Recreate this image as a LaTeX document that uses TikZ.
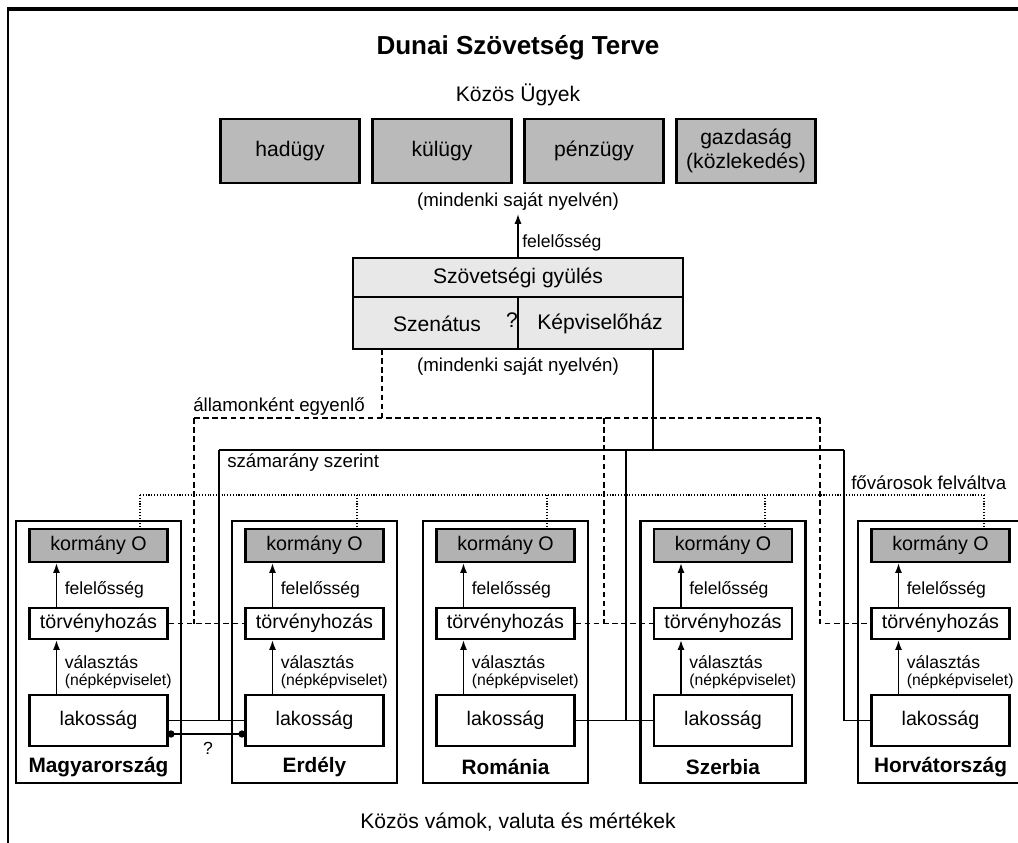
\documentclass[tikz,border=0pt]{standalone}
\usepackage{fontspec}
\setmainfont{Liberation Sans}
\usetikzlibrary{arrows.meta}

\tikzset{
  cim/.style={font=\fontsize{18.5}{22}\selectfont\bfseries},
  nagy/.style={font=\fontsize{15}{16.5}\selectfont},
  kozep/.style={font=\fontsize{14}{17}\selectfont},
  cimke/.style={font=\fontsize{13.3}{16}\selectfont, inner sep=0pt},
  kicsi/.style={font=\fontsize{12.5}{15}\selectfont, inner sep=0pt},
  apro/.style={font=\fontsize{11.2}{13}\selectfont, inner sep=0pt},
  ugy/.style={nagy, draw, line width=1.6pt, fill=black!27, minimum width=3.475cm, minimum height=1.6cm, align=center, inner sep=0pt},
  gyul/.style={draw, line width=1.6pt, fill=black!9, minimum width=8.25cm},
  allam/.style={draw, line width=2pt, minimum width=4.125cm, minimum height=6.55cm},
  korm/.style={kozep, draw, line width=1.5pt, fill=black!30, minimum width=3.45cm, minimum height=0.825cm, inner sep=0pt},
  torv/.style={kozep, draw, line width=1.5pt, fill=white, minimum width=3.45cm, minimum height=0.775cm, inner sep=0pt},
  lak/.style={kozep, draw, line width=1.5pt, fill=white, minimum width=3.45cm, minimum height=1.275cm, inner sep=0pt},
  orszag/.style={font=\fontsize{14.8}{18}\selectfont\bfseries},
  nyil/.style={-{Latex[length=7pt,width=5pt]}, line width=1.1pt},
  egyenlo/.style={dash pattern=on 4pt off 2.5pt, line width=1.1pt},
  szam/.style={line width=1.1pt},
  fovaros/.style={dash pattern=on 0.8pt off 1.2pt, line width=0.8pt}
}

\begin{document}
\begin{tikzpicture}[x=0.025cm, y=-0.025cm]

\useasboundingbox (0,0) rectangle (1018,842);
\clip (0,0) rectangle (1018,842);

\draw[line width=2.2pt] (7,9) -- (1030,9);
\draw[line width=1.5pt] (8,9) -- (8,850);


\node[cim] (cim) at (518,48) {Dunai Szövetség Terve};

\node[nagy] (kozosugyek) at (518,95) {Közös Ügyek};

\node[ugy] (hadugy) at (290,151) {hadügy};
\node[ugy] (kulugy) at (442,151) {külügy};
\node[ugy] (penzugy) at (594,151) {pénzügy};
\node[ugy] (gazdasag) at (746,151) {gazdaság\\(közlekedés)};

\node[cimke] (nyelv1) at (518,202) {(mindenki saját nyelvén)};

\node[gyul, nagy, minimum height=0.975cm] (gyules) at (518,277.5) {Szövetségi gyülés};
\node[gyul, minimum height=1.3cm] (kamara) at (518,323) {};
\draw[szam] (kamara.north) -- (kamara.south);
\node[nagy] (szenatus) at (437,324) {Szenátus};
\node[nagy] (kerdes1) at (512,320) {?};
\node[nagy] (kepviselo) at (600,324) {Képviselőház};

\node[cimke] (nyelv2) at (518,367) {(mindenki saját nyelvén)};

\draw[nyil, shorten >=2pt] (gyules.north) -- (nyelv1.south);
\node[kicsi, anchor=west] (fel0) at (522,243) {felelősség};


% allamok
\node[allam] (mag) at (98.5,652) {};
\node[korm] (magKorm) at (98.5,545.5) {kormány O};
\node[torv] (magTorv) at (98.5,623.5) {törvényhozás};
\node[lak] (magLak) at (98.5,720.5) {lakosság};
\node[orszag] (magNev) at (98.5,767) {Magyarország};
\draw[nyil] ([xshift=-1.05cm]magTorv.north) -- ([xshift=-1.05cm]magKorm.south);
\draw[nyil] ([xshift=-1.05cm]magLak.north) -- ([xshift=-1.05cm]magTorv.south);
\node[kicsi, anchor=west] (magFel) at (64.5,590) {felelősség};
\node[kicsi, anchor=west] (magVal) at (64.5,662) {választás};
\node[apro, anchor=west] (magNep) at (64.5,681) {(népképviselet)};

\node[allam] (erd) at (314.5,652) {};
\node[korm] (erdKorm) at (314.5,545.5) {kormány O};
\node[torv] (erdTorv) at (314.5,623.5) {törvényhozás};
\node[lak] (erdLak) at (314.5,720.5) {lakosság};
\node[orszag] (erdNev) at (314.5,767) {Erdély};
\draw[nyil] ([xshift=-1.05cm]erdTorv.north) -- ([xshift=-1.05cm]erdKorm.south);
\draw[nyil] ([xshift=-1.05cm]erdLak.north) -- ([xshift=-1.05cm]erdTorv.south);
\node[kicsi, anchor=west] (erdFel) at (280.5,590) {felelősség};
\node[kicsi, anchor=west] (erdVal) at (280.5,662) {választás};
\node[apro, anchor=west] (erdNep) at (280.5,681) {(népképviselet)};

\node[allam] (rom) at (505.5,652) {};
\node[korm] (romKorm) at (505.5,545.5) {kormány O};
\node[torv] (romTorv) at (505.5,623.5) {törvényhozás};
\node[lak] (romLak) at (505.5,720.5) {lakosság};
\node[orszag] (romNev) at (505.5,767) {Románia};
\draw[nyil] ([xshift=-1.05cm]romTorv.north) -- ([xshift=-1.05cm]romKorm.south);
\draw[nyil] ([xshift=-1.05cm]romLak.north) -- ([xshift=-1.05cm]romTorv.south);
\node[kicsi, anchor=west] (romFel) at (471.5,590) {felelősség};
\node[kicsi, anchor=west] (romVal) at (471.5,662) {választás};
\node[apro, anchor=west] (romNep) at (471.5,681) {(népképviselet)};

\node[allam] (szer) at (723,652) {};
\node[korm] (szerKorm) at (723,545.5) {kormány O};
\node[torv] (szerTorv) at (723,623.5) {törvényhozás};
\node[lak] (szerLak) at (723,720.5) {lakosság};
\node[orszag] (szerNev) at (723,767) {Szerbia};
\draw[nyil] ([xshift=-1.05cm]szerTorv.north) -- ([xshift=-1.05cm]szerKorm.south);
\draw[nyil] ([xshift=-1.05cm]szerLak.north) -- ([xshift=-1.05cm]szerTorv.south);
\node[kicsi, anchor=west] (szerFel) at (689,590) {felelősség};
\node[kicsi, anchor=west] (szerVal) at (689,662) {választás};
\node[apro, anchor=west] (szerNep) at (689,681) {(népképviselet)};

\node[allam] (hor) at (940.5,652) {};
\node[korm] (horKorm) at (940.5,545.5) {kormány O};
\node[torv] (horTorv) at (940.5,623.5) {törvényhozás};
\node[lak] (horLak) at (940.5,720.5) {lakosság};
\node[orszag] (horNev) at (940.5,767) {Horvátország};
\draw[nyil] ([xshift=-1.05cm]horTorv.north) -- ([xshift=-1.05cm]horKorm.south);
\draw[nyil] ([xshift=-1.05cm]horLak.north) -- ([xshift=-1.05cm]horTorv.south);
\node[kicsi, anchor=west] (horFel) at (906.5,590) {felelősség};
\node[kicsi, anchor=west] (horVal) at (906.5,662) {választás};
\node[apro, anchor=west] (horNep) at (906.5,681) {(népképviselet)};


% allamonkent egyenlo
\coordinate (szen) at (382,349);
\coordinate (e1) at (194,418);
\coordinate (e2) at (382,418);
\coordinate (e3) at (604,418);
\coordinate (e4) at (820,418);

\draw[egyenlo] (szen) -- (e2);
\draw[egyenlo] (e1) -- (e4);
\draw[egyenlo] (e1) -- (e1 |- magTorv.east);
\draw[egyenlo] (magTorv) -- (erdTorv);
\draw[egyenlo] (e3) -- (e3 |- romTorv.east);
\draw[egyenlo] (romTorv) -- (szerTorv);
\draw[egyenlo] (e4) |- (horTorv);

\node[cimke, anchor=west] (egyenlo) at (193,407) {államonként egyenlő};


% szamarany szerint
\coordinate (kep) at (653,349);
\coordinate (s1) at (219,450);
\coordinate (s2) at (626,450);
\coordinate (s3) at (653,450);
\coordinate (s4) at (844,450);

\draw[szam] (kep) -- (s3);
\draw[szam] (s1) -- (s4);
\draw[szam] (s1) -- (s1 |- magLak.east);
\draw[szam] (magLak) -- (erdLak);
\draw[szam] (s2) -- (s2 |- romLak.east);
\draw[szam] (romLak) -- (szerLak);
\draw[szam] (s4) |- (horLak);

\node[cimke, anchor=west] (aranyos) at (227,463) {számarány szerint};

\coordinate (k1) at (167,734);
\coordinate (k2) at (247,734);
\draw[szam] (k1) -- (k2);
\fill (171,734) circle (2.6pt);
\fill (242,734) circle (2.6pt);
\node[kicsi] (kerdes2) at (208,748) {?};


% fovarosok felvaltva
\coordinate (f1) at (140,495);
\coordinate (f2) at (357,495);
\coordinate (f3) at (547,495);
\coordinate (f4) at (765,495);
\coordinate (f5) at (984,495);

\draw[fovaros] (f1) -- (f5);
\draw[fovaros] (f1) -- (f1 |- magKorm.north);
\draw[fovaros] (f2) -- (f2 |- erdKorm.north);
\draw[fovaros] (f3) -- (f3 |- romKorm.north);
\draw[fovaros] (f4) -- (f4 |- szerKorm.north);
\draw[fovaros] (f5) -- (f5 |- horKorm.north);

\node[cimke, anchor=west] (felvaltva) at (851,483) {fővárosok felváltva};


\node[nagy] (vamok) at (518,822) {Közös vámok, valuta és mértékek};

\end{tikzpicture}
\end{document}
